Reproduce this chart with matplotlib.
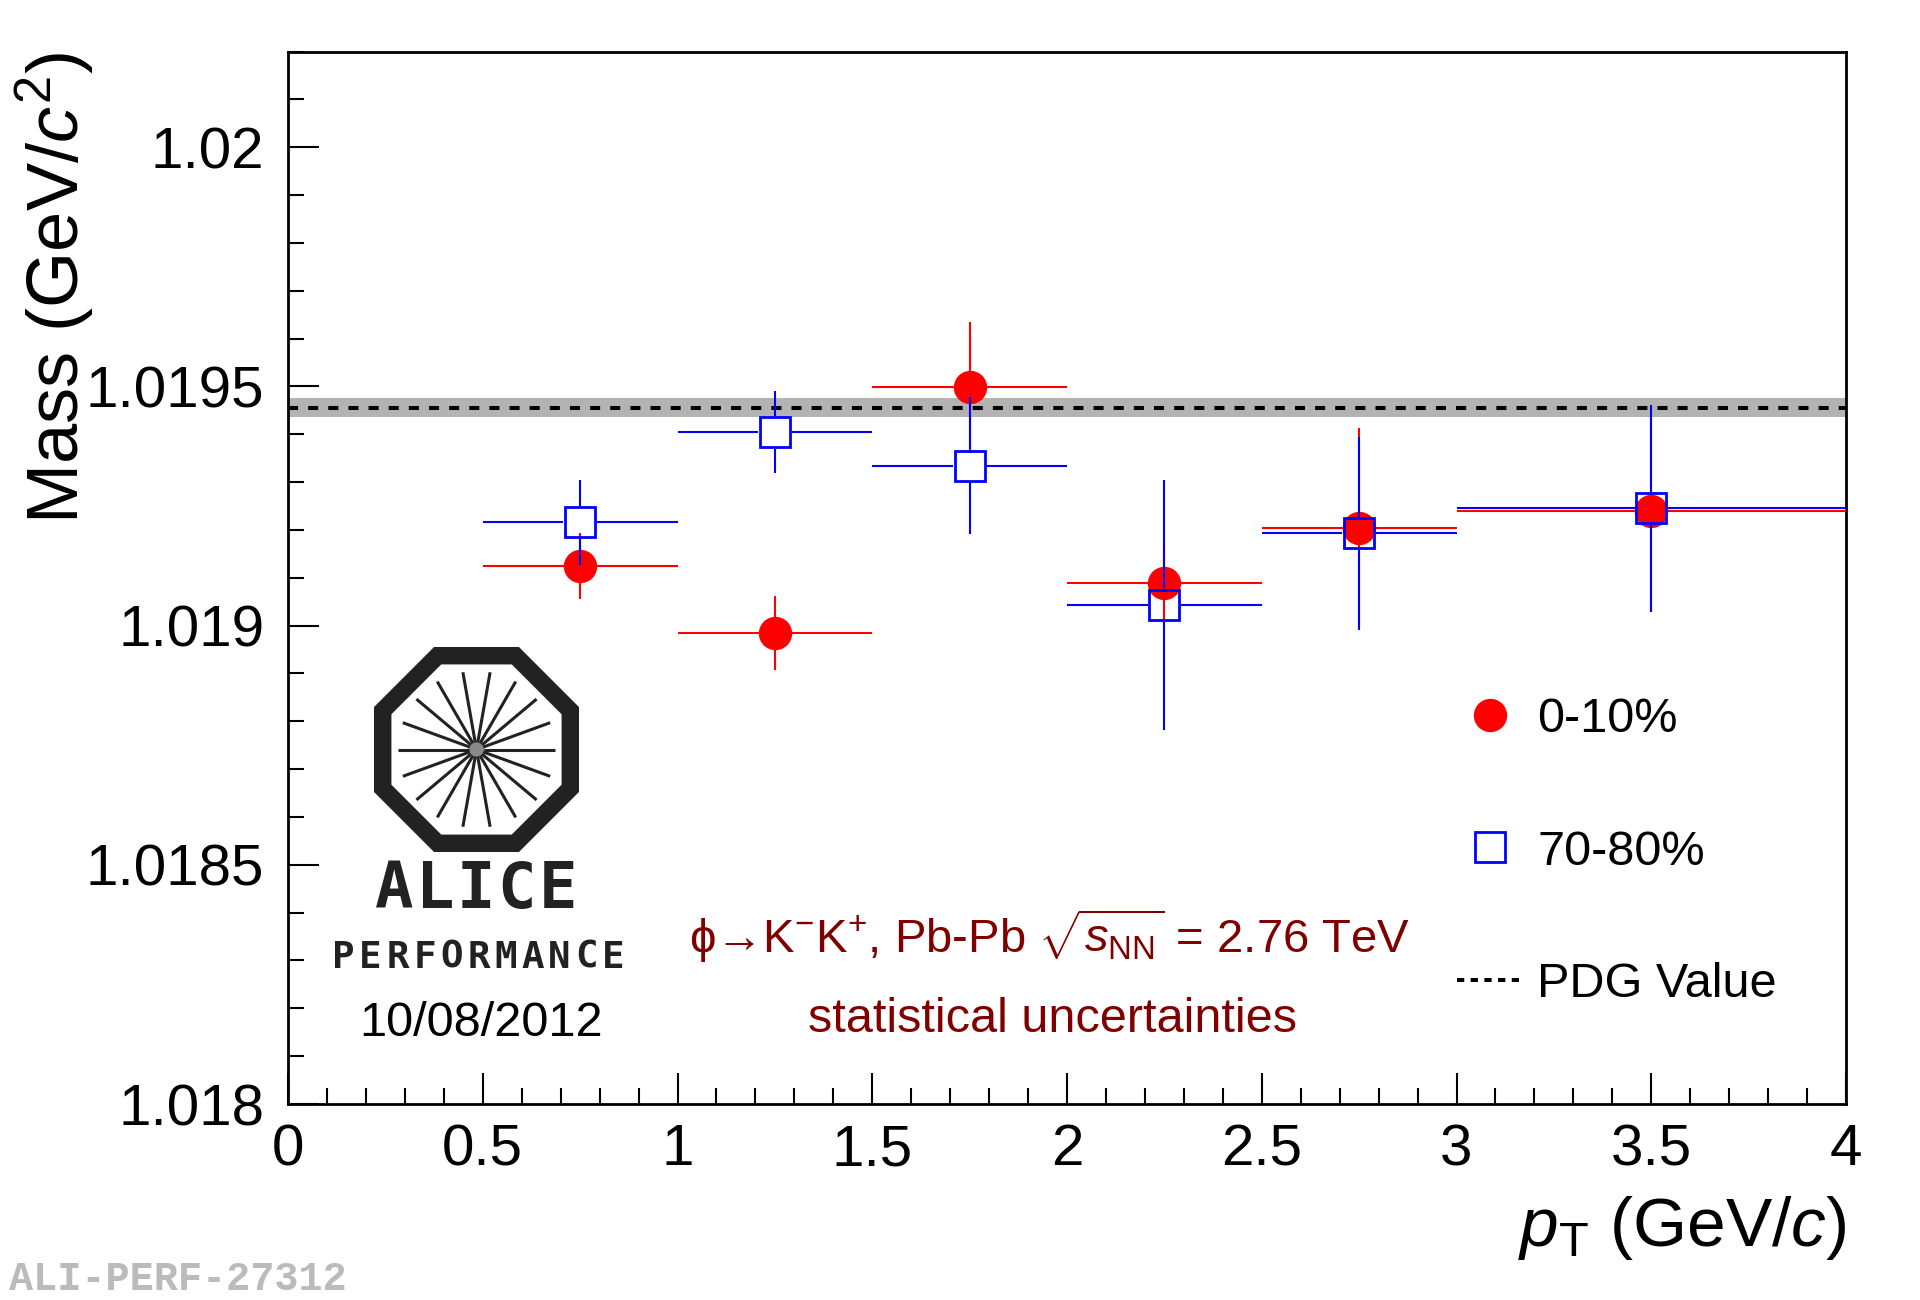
import numpy as np
import matplotlib
matplotlib.use("Agg")
import matplotlib.pyplot as plt
from matplotlib.lines import Line2D
from matplotlib.patches import Polygon, Circle
from matplotlib.ticker import MultipleLocator, FuncFormatter

plt.rcParams['font.family'] = ['Liberation Sans', 'DejaVu Sans']
plt.rcParams['mathtext.fontset'] = 'custom'
plt.rcParams['mathtext.rm'] = 'Liberation Sans'
plt.rcParams['mathtext.it'] = 'Liberation Sans:italic'
plt.rcParams['mathtext.bf'] = 'Liberation Sans:bold'
plt.rcParams['mathtext.sf'] = 'Liberation Sans'

# pT bins (GeV/c)
pt_center = [0.75, 1.25, 1.75, 2.25, 2.75, 3.5]
pt_halfwidth = [0.25, 0.25, 0.25, 0.25, 0.25, 0.5]

# phi mass, 0-10% centrality
mass_central = [1.019124, 1.018985, 1.019498, 1.019089, 1.019204, 1.019239]
err_central = [0.000069, 0.000077, 0.000137, 0.000080, 0.000210, 0.000200]

# phi mass, 70-80% centrality
mass_periph = [1.019216, 1.019404, 1.019334, 1.019043, 1.019193, 1.019245]
err_periph = [0.000089, 0.000086, 0.000143, 0.000262, 0.000202, 0.000217]

pdg_mass = 1.019455
pdg_err = 0.000020

xlim = (0, 4)
ylim = (1.018, 1.0202)

W, H, DPI = 1920, 1300, 100
fig = plt.figure(figsize=(W / DPI, H / DPI), dpi=DPI)
ax_l, ax_r, ax_t, ax_b = 288, 1846, 51.5, 1104
ax = fig.add_axes([ax_l / W, 1 - ax_b / H, (ax_r - ax_l) / W, (ax_b - ax_t) / H])
ax.set_xlim(*xlim)
ax.set_ylim(*ylim)

# PDG band + dashed line
ax.axhspan(pdg_mass - pdg_err, pdg_mass + pdg_err, color='#b3b3b3', lw=0, zorder=1)
ax.axhline(pdg_mass, color='black', lw=2.9, dashes=(2.5, 2.5), zorder=2)

# 0-10% : filled red circles
ax.errorbar(pt_center, mass_central, xerr=pt_halfwidth, yerr=err_central, fmt='o',
            color='red', ms=23, elinewidth=1.5, capsize=0, zorder=3)

# 70-80% : open blue squares, error bars stop at the marker edge (ROOT style)
sq_ms, sq_mew = 22, 2
half_px = (sq_ms + sq_mew) * DPI / 72 / 2
gap_x = half_px * (xlim[1] - xlim[0]) / (ax_r - ax_l)
gap_y = half_px * (ylim[1] - ylim[0]) / (ax_b - ax_t)
x = np.array(pt_center)
y = np.array(mass_periph)
xe = np.array(pt_halfwidth)
ye = np.array(err_periph)
ax.hlines(y, x - xe, x - gap_x, color='blue', lw=1.5, zorder=4)
ax.hlines(y, x + gap_x, x + xe, color='blue', lw=1.5, zorder=4)
ax.vlines(x, y - ye, y - gap_y, color='blue', lw=1.5, zorder=4)
ax.vlines(x, y + gap_y, y + ye, color='blue', lw=1.5, zorder=4)
ax.plot(x, y, ls='none', marker='s', ms=sq_ms, mfc='none', mec='blue', mew=sq_mew, zorder=5)

# axes styling
ax.xaxis.set_major_locator(MultipleLocator(0.5))
ax.xaxis.set_minor_locator(MultipleLocator(0.1))
ax.yaxis.set_major_locator(MultipleLocator(0.0005))
ax.yaxis.set_minor_locator(MultipleLocator(0.0001))
fmt = FuncFormatter(lambda v, p: f'{v:g}')
ax.xaxis.set_major_formatter(fmt)
ax.yaxis.set_major_formatter(fmt)
ax.tick_params(which='both', direction='in', top=False, right=False, width=1.5)
ax.tick_params(which='major', length=22, labelsize=42)
ax.tick_params(which='minor', length=11.5)
ax.tick_params(axis='x', which='major', pad=14)
ax.tick_params(axis='y', which='major', pad=17)
for s in ax.spines.values():
    s.set_linewidth(2)

fig.text(ax_r / W, 1 - 1246 / H, r'$p_{\rm T}$ (GeV/$c$)', ha='right', va='baseline', fontsize=50)
fig.text(13 / W, 1 - 52 / H, r'Mass (GeV/$c^{2}$)', rotation=90, ha='left', va='top', fontsize=52)

# legend
handles = [
    Line2D([], [], ls='none', marker='o', color='red', ms=23),
    Line2D([], [], ls='none', marker='s', mfc='none', mec='blue', mew=2, ms=22),
    Line2D([], [], color='black', lw=2.9, dashes=(1.8, 1.6)),
]
labels = ['0-10%', '70-80%', 'PDG Value']
ax.legend(handles, labels, loc='upper left', bbox_to_anchor=(1457 / W, 1 - 697 / H),
          bbox_transform=fig.transFigure, frameon=False, fontsize=35, handlelength=1.35,
          handletextpad=0.3, labelspacing=1.8, borderpad=0, borderaxespad=0)

# annotations
dark_red = '#800000'
fig.text(1050 / W, 1 - 936 / H,
         'ϕ→K$^{-}$K$^{+}$, Pb-Pb $\\sqrt{s_{\\rm NN}}$ = 2.76 TeV',
         ha='center', va='center', fontsize=34, color=dark_red)
fig.text(1052 / W, 1 - 1019 / H, 'statistical uncertainties', ha='center', va='center',
         fontsize=35, color=dark_red)
fig.text(481 / W, 1 - 1024 / H, '10/08/2012', ha='center', va='center', fontsize=35)
fig.text(9 / W, 1 - 1290 / H, 'ALI-PERF-27312', ha='left', va='baseline', fontsize=29,
         family='Liberation Mono', weight='bold', color='#bbbbbb')

# ALICE logo
logo_col = '#222222'
lax = fig.add_axes([374 / W, 1 - 852 / H, 205 / W, 205 / H])
lax.set_xlim(-1, 1)
lax.set_ylim(-1, 1)
lax.axis('off')
ang = np.deg2rad(22.5 + 45 * np.arange(8))
R_out = 1 / np.cos(np.deg2rad(22.5))
R_in = 0.83 * R_out
lax.add_patch(Polygon(np.c_[R_out * np.cos(ang), R_out * np.sin(ang)], closed=True, fc=logo_col, ec='none'))
lax.add_patch(Polygon(np.c_[R_in * np.cos(ang), R_in * np.sin(ang)], closed=True, fc='white', ec='none'))
for a in np.deg2rad(np.arange(0, 360, 20)):
    lax.plot([0.07 * np.cos(a), 0.765 * np.cos(a)], [0.07 * np.sin(a), 0.765 * np.sin(a)],
             color=logo_col, lw=2.2, solid_capstyle='butt')
lax.add_patch(Circle((0, 0), 0.08, fc='#8a8a8a', ec='none'))

for i, ch in enumerate('ALICE'):
    fig.text((394 + 41 * i) / W, 1 - 890 / H, ch, ha='center', va='center', fontsize=46,
             family='DejaVu Sans Mono', weight='bold', color=logo_col)
for i, ch in enumerate('PERFORMANCE'):
    fig.text((343.5 + 27 * i) / W, 1 - 958 / H, ch, ha='center', va='center', fontsize=27,
             family='DejaVu Sans Mono', weight='bold', color=logo_col)

fig.savefig('out.png', dpi=DPI)
